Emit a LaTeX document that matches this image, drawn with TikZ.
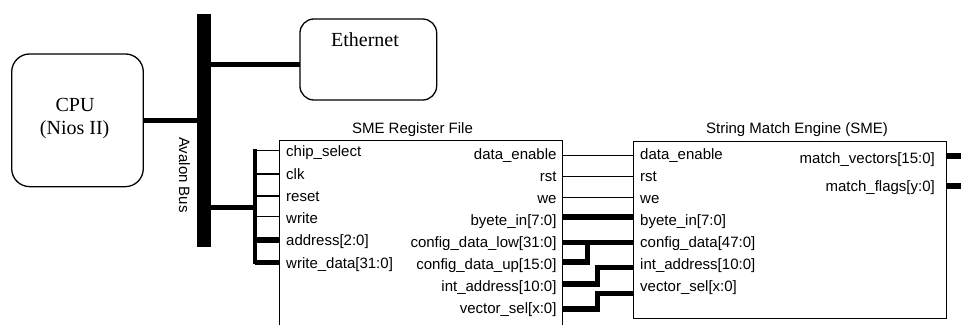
\documentclass[tikz,border=0pt]{standalone}
\usepackage{fontspec}
\setmainfont{Liberation Serif}
\newfontfamily\pinfont{Liberation Sans}
\begin{document}
\begin{tikzpicture}[x=1pt,y=-1pt,
  line join=miter,
  block/.style={draw, line width=1.3pt, inner sep=0pt},
  roundblock/.style={block, rounded corners=#1},
  serifname/.style={font=\fontsize{20}{24}\selectfont, inner sep=0pt, text height=13.2pt, text depth=0pt},
  pinlabel/.style={font=\pinfont\fontsize{15}{18}\selectfont, inner sep=0pt, text height=10.7pt, text depth=0pt},
  busbar/.style={fill=black, draw=none, inner sep=0pt},
  busline/.style={line width=4.4pt},
  bracket/.style={line width=4pt, line cap=rect},
  thinwire/.style={line width=1.3pt},
  thickwire/.style={line width=5.5pt}
]
\clip (0,0) rectangle (961,324);

% ---------- blocks ----------
\node[roundblock=18pt, minimum width=131.6pt, minimum height=132.7pt] (cpu) at (77.5,120.3) {};
\node[serifname] (cpulabel) at (75,105) {CPU};
\node[serifname] (niolabel) at (74.7,128) {(Nios II)};

\node[roundblock=14pt, minimum width=136.7pt, minimum height=81pt] (eth) at (368.3,59.5) {};
\node[serifname] (ethlabel) at (365,40) {Ethernet};

\node[busbar, minimum width=13.4pt, minimum height=233.3pt] (bus) at (204,130.6) {};
\node[pinlabel, rotate=-90] (buslabel) at (184.5,175) {Avalon Bus};

\node[block, minimum width=283.4pt, minimum height=200pt] (rf) at (421,240.7) {};
\node[pinlabel] (rftitle) at (412.5,128) {SME Register File};

\node[block, minimum width=313pt, minimum height=177pt] (sme) at (789.8,229.8) {};
\node[pinlabel] (smetitle) at (797,128) {String Match Engine (SME)};

% ---------- pin points ----------
% register file inputs (left edge)
\coordinate (rf-cs) at (279.3,150.7);
\coordinate (rf-ck) at (279.3,174);
\coordinate (rf-rs) at (279.3,196);
\coordinate (rf-wr) at (279.3,216.7);
\coordinate (rf-ad) at (279.3,240);
\coordinate (rf-wd) at (279.3,262.3);
% register file outputs (right edge)
\coordinate (rf-de) at (562.7,155.7);
\coordinate (rf-rt) at (562.7,176.7);
\coordinate (rf-we) at (562.7,197.3);
\coordinate (rf-by) at (562.7,217);
\coordinate (rf-cl) at (562.7,242.5);
\coordinate (rf-cu) at (562.7,262);
\coordinate (rf-ia) at (562.7,284);
\coordinate (rf-vs) at (562.7,309);
% SME inputs (left edge)
\coordinate (sme-de) at (633.3,155.7);
\coordinate (sme-rt) at (633.3,176.7);
\coordinate (sme-we) at (633.3,197.3);
\coordinate (sme-by) at (633.3,217);
\coordinate (sme-cf) at (633.3,242.5);
\coordinate (sme-ia) at (633.3,267.5);
\coordinate (sme-vs) at (633.3,293.3);
% SME outputs (right edge)
\coordinate (sme-mv) at (946.3,156);
\coordinate (sme-mf) at (946.3,186);
\coordinate (mv-end) at (966,156);
\coordinate (mf-end) at (966,186);
% wire helpers
\coordinate (ethin) at (300,64.5);
\coordinate (cpuout) at (143.3,120.3);
\coordinate (brk) at (255.3,207.3);
\coordinate (j1) at (587.5,242.5);
\coordinate (j2) at (597.7,267.5);
\coordinate (j3) at (597.7,293.3);

% ---------- Avalon bus connections ----------
\draw[busline] (cpuout) -- (cpuout -| bus.center);
\draw[busline] (ethin -| bus.center) -- (ethin);
\draw[busline] (brk -| bus.center) -- (brk);
\draw[bracket] (rf-cs -| brk) -- (rf-wd -| brk);
\draw[thinwire] (rf-cs -| brk) -- (rf-cs);
\draw[thinwire] (rf-ck -| brk) -- (rf-ck);
\draw[thinwire] (rf-rs -| brk) -- (rf-rs);
\draw[thinwire] (rf-wr -| brk) -- (rf-wr);
\draw[thickwire] (rf-ad -| brk) -- (rf-ad);
\draw[thickwire] (rf-wd -| brk) -- (rf-wd);

% ---------- register file to SME ----------
\draw[thinwire] (rf-de) -- (sme-de);
\draw[thinwire] (rf-rt) -- (sme-rt);
\draw[thinwire] (rf-we) -- (sme-we);
\draw[thickwire] (rf-by) -- (sme-by);
\draw[thickwire] (rf-cl) -- (sme-cf);
\draw[thickwire] (rf-cu) -| (j1);
\draw[thickwire] (rf-ia) -| (j2) -- (sme-ia);
\draw[thickwire] (rf-vs) -| (j3) -- (sme-vs);

% ---------- SME outputs ----------
\draw[thickwire] (sme-mv) -- (mv-end);
\draw[thickwire] (sme-mf) -- (mf-end);

% ---------- pin labels ----------
\begin{scope}[every node/.style={pinlabel, anchor=west}]
\node (l-cs) at (286,151.5) {chip\_select};
\node (l-ck) at (286,173.8) {clk};
\node (l-rs) at (286,196) {reset};
\node (l-wr) at (286,218.3) {write};
\node (l-ad) at (286,240.5) {address[2:0]};
\node (l-wd) at (286,262.8) {write\_data[31:0]};
\node (s-de) at (640,154.5) {data\_enable};
\node (s-rt) at (640,176.5) {rst};
\node (s-we) at (640,198.5) {we};
\node (s-by) at (640,220.5) {byete\_in[7:0]};
\node (s-cf) at (640,242.5) {config\_data[47:0]};
\node (s-ia) at (640,264.5) {int\_address[10:0]};
\node (s-vs) at (640,286.5) {vector\_sel[x:0]};
\end{scope}
\begin{scope}[every node/.style={pinlabel, anchor=east}]
\node (r-de) at (556.7,154.5) {data\_enable};
\node (r-rt) at (556.7,176.5) {rst};
\node (r-we) at (556.7,198.5) {we};
\node (r-by) at (556.7,220.5) {byete\_in[7:0]};
\node (r-cl) at (556.7,242.5) {config\_data\_low[31:0]};
\node (r-cu) at (556.7,264.5) {config\_data\_up[15:0]};
\node (r-ia) at (556.7,286.5) {int\_address[10:0]};
\node (r-vs) at (556.7,308.5) {vector\_sel[x:0]};
\node (o-mv) at (935,158) {match\_vectors[15:0]};
\node (o-mf) at (935,186) {match\_flags[y:0]};
\end{scope}
\end{tikzpicture}
\end{document}
